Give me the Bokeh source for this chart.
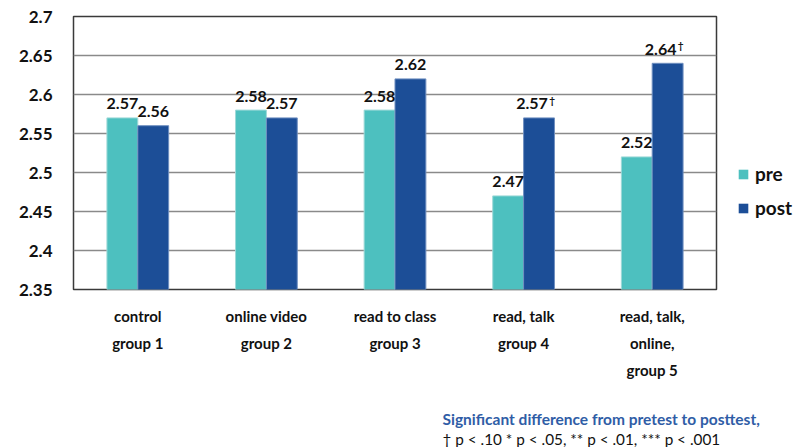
from bokeh.plotting import figure
from bokeh.layouts import row, column
from bokeh.models import (FactorRange, Range1d, FixedTicker, CustomJSTickFormatter,
                          Legend, LegendItem, Label, ColumnDataSource)
from bokeh.transform import dodge
from bokeh.core.properties import value
from bokeh.embed import file_html
from bokeh.resources import INLINE

# ---- data ----
groups = ["control\ngroup 1", "online video\ngroup 2", "read to class\ngroup 3",
          "read, talk\ngroup 4", "read, talk,\nonline,\ngroup 5"]
pre = [2.57, 2.58, 2.58, 2.47, 2.52]
post = [2.56, 2.57, 2.62, 2.57, 2.64]
post_marks = ["", "", "", "\u2020", "\u2020"]
y_ticks = [2.35, 2.4, 2.45, 2.5, 2.55, 2.6, 2.65, 2.7]
series_names = ["pre", "post"]
note_title = "Significant difference from pretest to posttest,"
note_text = "\u2020 p < .10 * p < .05, ** p < .01, *** p < .001"

PRE_COLOR = "#4DC0BF"
POST_COLOR = "#1C4E97"
FONT = "Lato"

src = ColumnDataSource(dict(
    g=groups, pre=pre, post=post,
    pre_lbl=[f"{v:.2f}" for v in pre],
    post_lbl=[f"{v:.2f}" for v in post],
    marks=post_marks,
    post_xoff=[-7 if m else 0 for m in post_marks],
))

# ---- main chart ----
p = figure(x_range=FactorRange(factors=groups, range_padding=0),
           y_range=Range1d(y_ticks[0], y_ticks[-1]),
           width=718, height=411, output_backend="svg", toolbar_location=None,
           min_border_left=73, min_border_right=2, min_border_top=16, min_border_bottom=122)
p.x_range.range_padding = 0

p.vbar(x=dodge("g", -0.12, range=p.x_range), top="pre", bottom=y_ticks[0], width=0.24,
       source=src, fill_color=PRE_COLOR, line_color="#9ed9d8", line_width=1)
p.vbar(x=dodge("g", 0.12, range=p.x_range), top="post", bottom=y_ticks[0], width=0.24,
       source=src, fill_color=POST_COLOR, line_color="#6f8fc0", line_width=1)

lbl_kw = dict(text_font=value(FONT), text_font_style="bold", text_font_size="16px",
              text_color="#111111", text_align="center", text_baseline="middle")
p.text(x=dodge("g", -0.12, range=p.x_range), y="pre", text="pre_lbl", source=src,
       y_offset=-14, **lbl_kw)
p.text(x=dodge("g", 0.12, range=p.x_range), y="post", text="post_lbl", source=src,
       x_offset="post_xoff", y_offset=-14, **lbl_kw)
p.text(x=dodge("g", 0.12, range=p.x_range), y="post", text="marks", source=src,
       x_offset=13, y_offset=-18, text_font=value(FONT), text_font_style="bold",
       text_font_size="10px", text_color="#111111", text_align="center", text_baseline="middle")

p.yaxis.ticker = FixedTicker(ticks=y_ticks)
p.yaxis.formatter = CustomJSTickFormatter(code="return String(Math.round(tick*100)/100)")
p.yaxis.major_label_text_font = FONT
p.yaxis.major_label_text_font_style = "bold"
p.yaxis.major_label_text_font_size = "17px"
p.yaxis.major_label_text_color = "#111111"
p.yaxis.major_tick_line_color = None
p.yaxis.major_tick_out = 0
p.yaxis.major_tick_in = 0
p.yaxis.minor_tick_line_color = None
p.yaxis.axis_line_color = None
p.yaxis.major_label_standoff = 21

p.xaxis.major_label_text_font = FONT
p.xaxis.major_label_text_font_style = "bold"
p.xaxis.major_label_text_font_size = "15px"
p.xaxis.major_label_text_color = "#111111"
p.xaxis.major_label_text_line_height = 1.5
p.xaxis.major_tick_line_color = None
p.xaxis.major_tick_out = 0
p.xaxis.major_tick_in = 0
p.xaxis.axis_line_color = None
p.xaxis.major_label_standoff = 17

p.xgrid.grid_line_color = None
p.ygrid.grid_line_color = "#8a8a8a"
p.ygrid.grid_line_width = 1.5
p.outline_line_color = "#3a3a3a"
p.outline_line_width = 1.5

# ---- legend panel (its renderers hold the data but lie outside its view) ----
pl = figure(width=85, height=411, x_range=Range1d(0, 1), y_range=Range1d(0, 1),
            output_backend="svg", toolbar_location=None, min_border=0)
pl.axis.visible = False
pl.grid.grid_line_color = None
pl.outline_line_color = None
lr_pre = pl.vbar(x="pre", top="pre", bottom=y_ticks[0], width=0.1, source=src,
                 fill_color=PRE_COLOR, line_color=None)
lr_post = pl.vbar(x="post", top="post", bottom=y_ticks[0], width=0.1, source=src,
                  fill_color=POST_COLOR, line_color=None)
legend = Legend(items=[LegendItem(label=series_names[0], renderers=[lr_pre]),
                       LegendItem(label=series_names[1], renderers=[lr_post])],
                location=(19, 70), margin=0, padding=0, spacing=11,
                glyph_width=12, glyph_height=12, label_standoff=6,
                label_text_font=FONT, label_text_font_style="bold",
                label_text_font_size="19px", label_text_color="#111111",
                border_line_color=None, background_fill_alpha=0)
pl.add_layout(legend)

# ---- footnote panel ----
pn = figure(width=803, height=36, x_range=Range1d(0, 803), y_range=Range1d(0, 36),
            output_backend="svg", toolbar_location=None, min_border=0)
pn.axis.visible = False
pn.grid.grid_line_color = None
pn.outline_line_color = None
pn.add_layout(Label(x=442, y=29, text=note_title, text_font=FONT, text_font_style="bold",
                    text_font_size="15.5px", text_color="#2F5DA6", text_baseline="middle"))
pn.add_layout(Label(x=442, y=9, text=note_text, text_font=FONT, text_font_style="normal",
                    text_font_size="15.3px", text_color="#111111", text_baseline="middle"))

layout = column(row(p, pl, spacing=0), pn, spacing=0)
open("out.html", "w").write(file_html(layout, INLINE))
